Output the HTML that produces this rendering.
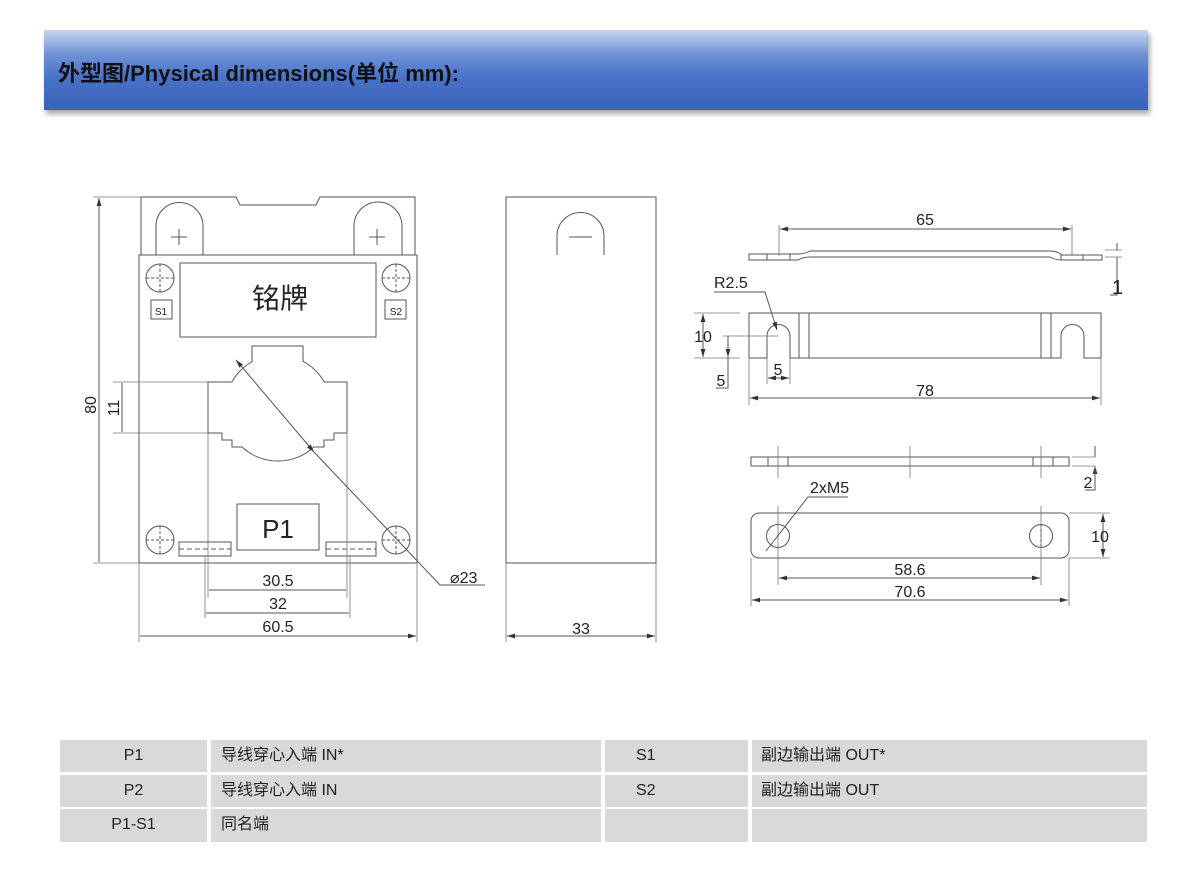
<!DOCTYPE html>
<html><head><meta charset="utf-8"><style>
html,body{margin:0;padding:0;background:#fff;width:1200px;height:872px;overflow:hidden;position:relative;font-family:"Liberation Sans","Noto Sans CJK SC",sans-serif}
.hdr{position:absolute;left:44px;top:30px;width:1104px;height:80px;background:linear-gradient(#c7d6f0 0%,#6f92d6 30%,#4872c8 60%,#3a62b8 100%);box-shadow:2px 4px 5px rgba(0,0,0,.35)}
.hdr span{position:absolute;left:14px;top:26px;font-size:22px;font-weight:bold;color:#111}
.c{position:absolute;background:#d9d9d9;font-size:16px;color:#222;line-height:32px;height:32px}
svg{position:absolute;left:0;top:0}
svg text{font-family:"Liberation Sans","Noto Sans CJK SC",sans-serif;fill:#222}
</style></head><body>
<div class="hdr"><span>外型图/Physical dimensions(单位 mm):</span></div>
<svg width="1200" height="872" viewBox="0 0 1200 872">
<defs><marker id="a" viewBox="0 0 10 6" refX="10" refY="3" markerWidth="8" markerHeight="5" orient="auto-start-reverse"><path d="M0,0L10,3L0,6z" fill="#333"/></marker></defs>
<g stroke="#555" stroke-width="1" fill="none">
<!-- front view -->
<path d="M141,255V197H236L240,205H316L320,197H415V255"/>
<path d="M156,255V226A23.5,23.5 0 0 1 203,226V255M354,255V226A24,24 0 0 1 402,226V255"/>
<rect x="139" y="255" width="278" height="308"/>
<rect x="180" y="263" width="196" height="74"/>
<rect x="151" y="300" width="21" height="19"/><rect x="385" y="300" width="21" height="19"/>
<circle cx="160" cy="278" r="14"/><circle cx="396" cy="278" r="14"/>
<circle cx="160" cy="540" r="14"/><circle cx="396" cy="540" r="14"/>
<g stroke-dasharray="3,2"><path d="M146,278H174M160,264V292M382,278H410M396,264V292M146,540H174M160,526V554M382,540H410M396,526V554"/></g>
<path d="M171,237H187M179,229V245M369,237H385M377,229V245"/>
<!-- window union -->
<circle cx="278" cy="408" r="53"/>
<rect x="252" y="346" width="51" height="30"/>
<path d="M208,382H347V433H334V440H324V447H232V440H222V433H208Z"/>
</g>
<g fill="#fff" stroke="none">
<circle cx="278" cy="408" r="52.5"/><rect x="252.5" y="346.5" width="50" height="30"/>
<path d="M208.5,382.5H346.5V432.5H333.5V439.5H323.5V446.5H232.5V439.5H222.5V432.5H208.5Z"/>
</g>
<g stroke="#555" stroke-width="1" fill="none">
<rect x="237" y="504" width="82" height="46"/>
<rect x="179" y="542" width="52" height="14"/><rect x="326" y="542" width="50" height="14"/>
<path d="M179,549H231M326,549H376" stroke-dasharray="5,3"/>
<path d="M208,433V598M347,433V598M205,555V618M350,555V618M139,563V642M417,563V642" stroke="#777" stroke-width=".8"/>
<path d="M93,197H141M93,563H139M113,382H208M113,433H208" stroke="#777" stroke-width=".8"/>
<path d="M99,198V562M122,383V432M209,590H346M206,613H349M140,636H416" marker-start="url(#a)" marker-end="url(#a)"/>
<path d="M236,360L314,452" marker-start="url(#a)" marker-end="url(#a)"/>
<path d="M314,452L440,585H485"/>
<!-- side view -->
<rect x="506" y="197" width="150" height="366"/>
<path d="M557,255V236A23.5,23.5 0 0 1 604,236V255M569,237H592"/>
<path d="M506,563V642M656,563V642" stroke="#777" stroke-width=".8"/>
<path d="M507,636H655" marker-start="url(#a)" marker-end="url(#a)"/>
<!-- top bar -->
<path d="M749,254H798Q805,254 810,251H1050Q1057,251 1062,255H1102V260H1062Q1055,260 1050,257H810Q803,257 798,260H749Z"/>
<path d="M767,254V260M790,254V260M1061,255V260M1083,255V260"/>
<path d="M779,225V256M1072,225V256M1105,250H1122M1105,257H1122" stroke="#777" stroke-width=".8"/>
<path d="M780,229H1071" marker-start="url(#a)" marker-end="url(#a)"/>
<path d="M1117,243V250M1117,264V257M1117,257V295H1110"/>
<!-- middle bar -->
<path d="M749,313H1101V358H1084V336A11.5,11.5 0 0 0 1061,336V358H790V336A11.5,11.5 0 0 0 767,336V358H749Z"/>
<path d="M799,313V358M809,313V358M1041,313V358M1051,313V358"/>
<path d="M694,313H740M694,358H740M723,336H778M749,358V405M1101,358V405M767,358V384M790,358V384" stroke="#777" stroke-width=".8"/>
<path d="M703,314V357" marker-start="url(#a)" marker-end="url(#a)"/>
<path d="M728,336V357" marker-end="url(#a)"/><path d="M728,357V388H716"/>
<path d="M768,378H789" marker-start="url(#a)" marker-end="url(#a)"/>
<path d="M750,398H1100" marker-start="url(#a)" marker-end="url(#a)"/>
<path d="M714,292H765L777,330" marker-end="url(#a)"/>
<!-- flat bar -->
<rect x="751" y="457" width="318" height="9"/>
<path d="M768,457V466M788,457V466M1033,457V466M1053,457V466"/>
<path d="M778,446V478M910,446V478M1041,446V478M1072,457H1095M1072,466H1095" stroke="#777" stroke-width=".8"/>
<path d="M1095,446V457M1095,477V466" marker-end="url(#a)"/><path d="M1095,466V490H1085"/>
<!-- plate -->
<rect x="751" y="513" width="318" height="45" rx="8"/>
<circle cx="778" cy="536" r="11.5"/><circle cx="1041" cy="536" r="11.5"/>
<path d="M778,506V585M1041,506V585M751,558V606M1069,558V606M1069,513H1110M1069,558H1110" stroke="#777" stroke-width=".8"/>
<path d="M1041,524V548" stroke-dasharray="3,2"/>
<path d="M1103,514V557" marker-start="url(#a)" marker-end="url(#a)"/>
<path d="M779,578H1040" marker-start="url(#a)" marker-end="url(#a)"/>
<path d="M752,600H1068" marker-start="url(#a)" marker-end="url(#a)"/>
<path d="M848,497H808L766,551"/>
</g>
<g font-size="16">
<text x="280" y="308" font-size="28" text-anchor="middle" fill="#111">铭牌</text>
<text x="278" y="538" font-size="26" text-anchor="middle" fill="#111">P1</text>
<text x="161" y="315" font-size="10" text-anchor="middle">S1</text>
<text x="396" y="315" font-size="10" text-anchor="middle">S2</text>
<text transform="translate(96,405) rotate(-90)" text-anchor="middle">80</text>
<text transform="translate(119,408) rotate(-90)" text-anchor="middle">11</text>
<text x="278" y="586" text-anchor="middle">30.5</text>
<text x="278" y="609" text-anchor="middle">32</text>
<text x="278" y="632" text-anchor="middle">60.5</text>
<text x="450" y="583">⌀23</text>
<text x="581" y="634" text-anchor="middle">33</text>
<text x="925" y="225" text-anchor="middle">65</text>
<text x="1112" y="294" font-size="20">1</text>
<text x="714" y="288">R2.5</text>
<text x="703" y="342" text-anchor="middle">10</text>
<text x="721" y="386" text-anchor="middle">5</text>
<text x="778" y="375" text-anchor="middle">5</text>
<text x="925" y="396" text-anchor="middle">78</text>
<text x="1088" y="488" text-anchor="middle">2</text>
<text x="810" y="493">2xM5</text>
<text x="1100" y="542" text-anchor="middle">10</text>
<text x="910" y="575" text-anchor="middle">58.6</text>
<text x="910" y="597" text-anchor="middle">70.6</text>
</g>
</svg>
<div class="c" style="left:60px;top:740px;width:147px;text-align:center">P1</div>
<div class="c" style="left:211px;top:740px;width:380px;padding-left:10px">导线穿心入端 IN*</div>
<div class="c" style="left:605px;top:740px;width:112px;padding-left:31px">S1</div>
<div class="c" style="left:752px;top:740px;width:386px;padding-left:9px">副边输出端 OUT*</div>
<div class="c" style="left:60px;top:775px;width:147px;text-align:center">P2</div>
<div class="c" style="left:211px;top:775px;width:380px;padding-left:10px">导线穿心入端 IN</div>
<div class="c" style="left:605px;top:775px;width:112px;padding-left:31px">S2</div>
<div class="c" style="left:752px;top:775px;width:386px;padding-left:9px">副边输出端 OUT</div>
<div class="c" style="left:60px;top:809px;width:147px;text-align:center;height:33px">P1-S1</div>
<div class="c" style="left:211px;top:809px;width:380px;padding-left:10px;height:33px">同名端</div>
<div class="c" style="left:605px;top:809px;width:143px;height:33px"></div>
<div class="c" style="left:752px;top:809px;width:395px;height:33px"></div>
</body></html>
